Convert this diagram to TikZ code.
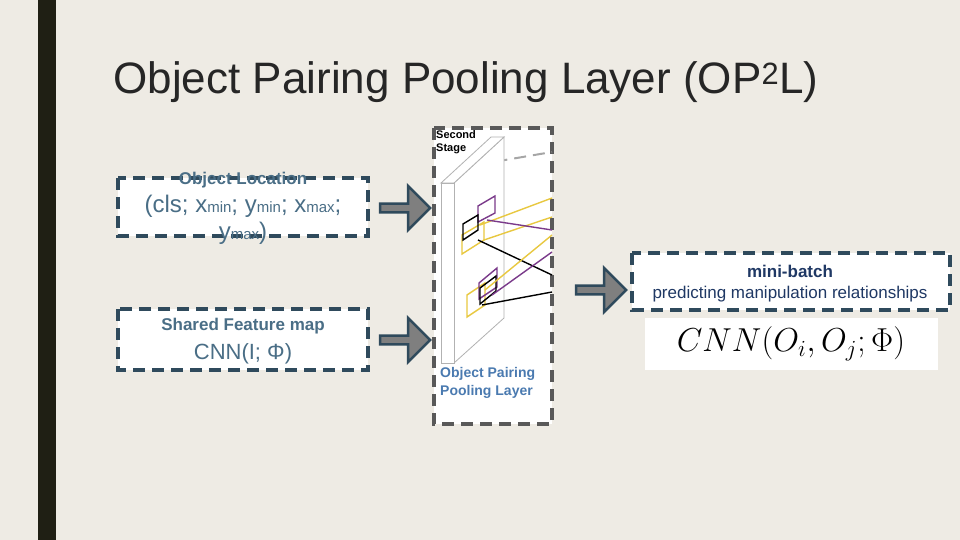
\documentclass[tikz,border=0pt]{standalone}
\usepackage{fontspec}
\setmainfont{Liberation Sans}
\usetikzlibrary{shapes.arrows}
\definecolor{bg}{HTML}{EEEBE4}
\definecolor{bar}{HTML}{1F1F14}
\definecolor{bord}{HTML}{2F4A5C}
\definecolor{btxt}{HTML}{4A6E86}
\definecolor{navy}{HTML}{1F3864}
\definecolor{pblue}{HTML}{4A7AB0}
\definecolor{ylw}{HTML}{E8C840}
\definecolor{prp}{HTML}{7A3A8A}
\definecolor{agray}{HTML}{7F7F7F}
\tikzset{
 dbox/.style={draw=bord,line width=3.5pt,dash pattern=on 12pt off 7pt,fill=white},
 barrow/.style={single arrow,draw=bord,line width=2.5pt,fill=agray,minimum height=50pt,minimum width=44pt,single arrow head extend=5pt,inner sep=0pt},
 slab/.style={draw=gray!60,line width=0.8pt,fill=white},
 wl/.style={line width=1.4pt},
}
\begin{document}
\begin{tikzpicture}[x=1pt,y=-1pt]
\fill[bg] (0,0) rectangle (960,540);
\useasboundingbox (0,0) rectangle (960,540);
\fill[bar] (38,0) rectangle (56,540);
\node[anchor=west,font=\fontsize{44}{46}\selectfont,text=black!85] (title) at (110,82) {Object Pairing Pooling Layer (OP\textsuperscript{2}L)};
% left boxes
\draw[dbox] (118,178) rectangle (368,236);
\node[font=\bfseries\fontsize{17}{19}\selectfont,text=btxt] (loc) at (243,180) {Object Location};
\node[font=\fontsize{24}{27}\selectfont,text=btxt,align=center] (cls) at (243,220) {(cls; x{\fontsize{15}{15}\selectfont min}; y{\fontsize{15}{15}\selectfont min}; x{\fontsize{15}{15}\selectfont max};\\y{\fontsize{15}{15}\selectfont max})};
\draw[dbox] (118,309) rectangle (368,370);
\node[font=\bfseries\fontsize{17}{19}\selectfont,text=btxt] (sfm) at (243,326) {Shared Feature map};
\node[font=\fontsize{22}{24}\selectfont,text=btxt] (cnn) at (243,354) {CNN(I; Φ)};
\node[barrow] (a1) at (403,208) {};
\node[barrow] (a2) at (403,340) {};
% central panel
\draw[draw=black!65,line width=3.5pt,dash pattern=on 12pt off 7pt,fill=white] (434,128) rectangle (552,424);
\draw[gray!70,line width=2pt,dash pattern=on 12pt off 7pt] (458,168) -- (552,152);
\draw[slab] (454,183) -- (504,137) -- (504,318) -- (454,363) -- cycle;
\draw[slab] (441,183) -- (491,137) -- (504,137) -- (454,183) -- cycle;
\draw[slab] (441,183) rectangle (454,363);
\node[anchor=north west,font=\bfseries\fontsize{11}{13}\selectfont,align=left,inner sep=0pt] (ss) at (436,130) {Second\\ Stage};
% upper windows
\draw[ylw,wl] (462,254) -- (462,235) -- (484,222) -- (484,240) -- cycle;
\draw[prp,wl] (478,222) -- (478,206) -- (495,196) -- (495,213) -- cycle;
\draw[black,wl] (463,240) -- (463,224) -- (478,215) -- (478,230) -- cycle;
\draw[ylw,wl] (480,225) -- (552,198);
\draw[ylw,wl] (484,240) -- (552,217);
\draw[prp,wl] (487,220) -- (552,230);
\draw[black,wl] (478,240) -- (552,275);
% lower windows
\draw[ylw,wl] (467,317) -- (467,295) -- (485,283) -- (485,305) -- cycle;
\draw[prp,wl] (479,299) -- (479,283) -- (497,268) -- (497,287) -- cycle;
\draw[black,wl] (480,304) -- (480,288) -- (496,276) -- (496,291) -- cycle;
\draw[ylw,wl] (485,290) -- (552,235);
\draw[prp,wl] (492,295) -- (552,252);
\draw[black,wl] (482,305) -- (552,292);
\node[anchor=north west,font=\bfseries\fontsize{14}{18}\selectfont,text=pblue,align=left,inner sep=0pt] (opl) at (440,367) {Object Pairing\\Pooling Layer};
% right
\node[barrow] (a3) at (599,290) {};
\draw[dbox] (632,253) rectangle (950,310);
\node[font=\bfseries\fontsize{17}{19}\selectfont,text=navy] (mb) at (790,271) {mini-batch};
\node[font=\fontsize{17}{19}\selectfont,text=navy] (pm) at (790,294) {predicting manipulation relationships};
\fill[white] (645,318) rectangle (938,370);
\node (form) at (791,344) {\scalebox{1.6}{\fontsize{22}{26}\selectfont$CNN(O_i,O_j;\Phi)$}};
\end{tikzpicture}
\end{document}
